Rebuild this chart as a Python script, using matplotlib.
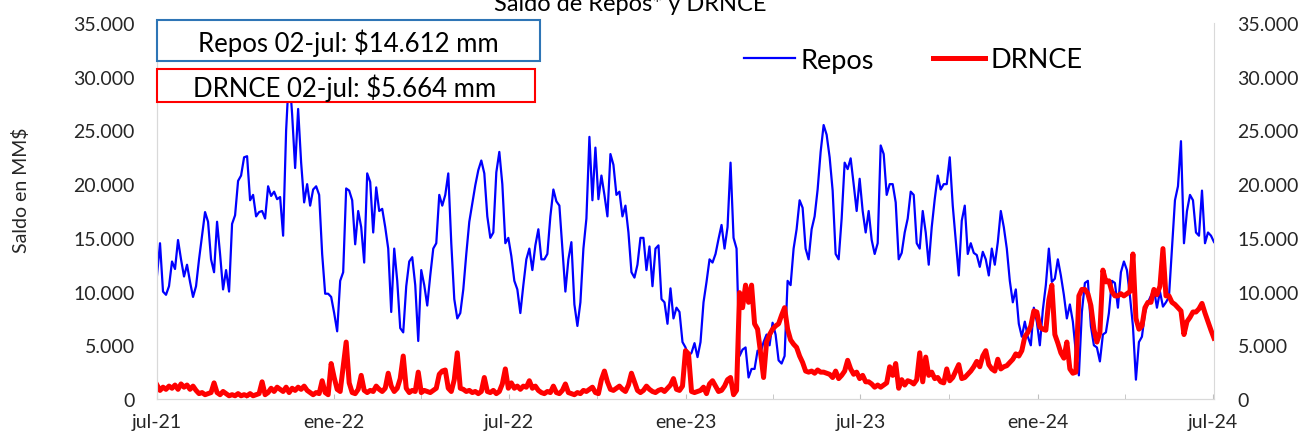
import numpy as np
import pandas as pd
import matplotlib
matplotlib.use("Agg")
import matplotlib.pyplot as plt
import matplotlib.dates as mdates
from matplotlib.ticker import FuncFormatter
from matplotlib.patches import Rectangle
from matplotlib.lines import Line2D

plt.rcParams['font.family'] = ['Lato', 'DejaVu Sans']

# daily balances, in thousands of MM$
start_date = "2021-07-01"
end_date = "2024-07-02"

repos_k = [
    11.5, 14.5, 10.0, 9.7, 10.5, 12.8, 12.1, 14.8, 13.0, 11.4,
    12.5, 10.9, 9.5, 10.5, 13.0, 15.2, 17.4, 16.5, 13.0, 11.8,
    16.5, 13.5, 10.2, 12.0, 10.0, 16.3, 17.1, 20.3, 20.8, 22.5,
    22.6, 18.5, 19.0, 17.0, 17.4, 17.5, 16.8, 19.8, 18.9, 19.3,
    18.6, 18.8, 15.2, 25.0, 30.5, 26.5, 21.5, 27.0, 22.0, 18.3,
    20.0, 18.0, 19.5, 19.8, 19.0, 13.5, 9.8, 9.8, 9.5, 8.0,
    6.3, 11.0, 11.8, 19.6, 19.4, 18.5, 14.4, 17.5, 16.0, 12.7,
    21.0, 20.2, 15.5, 19.7, 17.5, 17.7, 16.0, 14.0, 8.1, 14.0,
    11.0, 6.6, 6.2, 10.5, 12.8, 13.2, 10.6, 5.4, 12.0, 10.6,
    8.7, 11.5, 14.0, 14.5, 19.0, 18.0, 19.0, 21.0, 14.5, 9.3,
    7.5, 8.0, 10.2, 13.5, 16.5, 18.2, 19.9, 21.3, 22.2, 21.0,
    17.0, 15.0, 15.5, 21.1, 23.0, 20.0, 14.5, 15.0,
    13.3, 11.0, 10.2, 8.0, 10.6, 13.0, 14.0, 12.0, 14.3, 15.8,
    13.0, 13.0, 13.5, 17.0, 19.5, 18.4, 18.0, 14.0, 10.0, 13.0,
    14.6, 8.8, 6.8, 9.0, 14.0, 16.8, 24.4, 18.5, 23.4, 18.6,
    20.8, 19.0, 17.0, 22.8, 21.8, 19.0, 19.3, 17.0, 18.0, 15.5,
    11.8, 11.3, 12.5, 15.0, 15.0, 12.0, 14.2, 10.5, 14.0, 14.3,
    9.3, 9.0, 7.0, 10.3, 7.5, 8.5, 8.1, 5.3, 4.8,
    4.0, 4.3, 5.2, 3.9, 5.3, 9.0, 10.9, 13.0, 12.7, 13.5,
    14.9, 16.2, 14.0, 16.0, 22.0, 15.0, 14.0, 4.0, 4.6, 4.8,
    2.0, 2.8, 2.8, 4.5, 4.3, 5.3, 6.0, 5.0, 7.1, 6.0,
    3.6, 3.3, 4.0, 11.0, 10.6, 14.0, 15.8, 18.5, 17.8, 14.0,
    13.0, 15.8, 17.0, 19.5, 23.0, 25.5, 24.6, 22.5, 19.4, 13.5,
    13.0, 16.8, 22.0, 21.4, 22.4, 20.0, 17.5, 20.5, 17.5, 15.5,
    17.5, 14.8, 13.5, 14.5, 23.6, 22.8, 19.0, 20.0, 20.0, 18.3,
    13.0, 13.6, 15.5, 16.8, 19.3, 19.0, 14.5, 14.0, 17.5, 15.5,
    12.5, 16.0, 18.6, 20.8, 19.5, 20.0, 20.0, 22.5, 18.0, 14.7,
    11.5, 16.6, 18.0, 13.5, 14.5, 13.6, 13.4, 12.3, 13.7, 13.0,
    11.5, 14.0, 12.5, 14.6, 17.5, 16.0, 14.0, 11.0, 9.0, 10.2,
    7.0, 5.8, 7.2, 5.8, 5.0, 8.5, 7.2, 5.0,
    8.3, 10.6, 14.0, 10.9, 11.2, 13.0, 11.5, 9.7, 7.5, 8.8,
    7.2, 4.3, 2.2, 8.1, 10.8, 11.0, 6.8, 5.0, 4.8, 3.5,
    6.0, 6.2, 8.0, 11.0, 10.8, 8.5, 11.8, 12.8, 12.0, 9.6,
    6.8, 1.8, 5.3, 5.8, 8.0, 9.0, 9.6, 10.2, 8.5, 10.0,
    8.6, 9.0, 9.5, 14.0, 18.5, 19.8, 24.0, 14.5, 17.5, 19.0,
    18.5, 15.5, 15.2, 19.4, 14.5, 15.5, 15.2, 14.612,
]

drnce_k = [
    1.3, 0.8, 1.1, 0.9, 1.2, 1.0, 1.3, 0.9, 1.4, 1.1,
    1.3, 0.9, 1.2, 0.8, 0.5, 0.6, 0.4, 0.5, 0.6, 1.5,
    0.6, 0.4, 0.7, 0.5, 0.3, 0.4, 0.3, 0.5, 0.3, 0.4,
    0.3, 0.5, 0.3, 0.4, 0.5, 1.6, 0.4, 0.6, 1.0, 0.7,
    1.1, 0.9, 0.7, 1.1, 0.6, 1.0, 0.8, 1.1, 0.9, 1.2,
    0.8, 0.6, 0.4, 0.6, 0.5, 1.7, 0.6, 0.4, 3.3, 2.0,
    0.9, 0.7, 3.0, 5.3, 1.5, 0.6, 0.5, 0.9, 2.2, 0.8,
    0.6, 0.8, 0.7, 1.2, 0.9, 0.7, 1.0, 2.4, 1.2, 0.7,
    1.0, 1.9, 4.0, 1.0, 0.6, 0.8, 0.7, 2.5, 0.6, 0.8,
    0.7, 0.6, 0.8, 1.0, 2.3, 2.6, 2.7, 1.0, 0.7, 1.8,
    4.3, 1.0, 0.9, 0.7, 0.8, 0.6, 0.7, 0.5, 0.7, 2.0,
    0.7, 0.6, 0.8, 0.5, 0.7, 1.4, 2.8, 1.0,
    1.5, 1.0, 1.2, 0.9, 1.2, 1.1, 1.7, 1.0, 1.2, 0.8,
    0.6, 0.5, 0.7, 0.6, 1.2, 0.6, 0.5, 0.8, 1.4, 0.6,
    0.5, 0.4, 0.6, 0.5, 0.8, 0.7, 0.9, 1.1, 0.6, 0.5,
    1.8, 2.6, 1.6, 0.9, 0.8, 1.0, 1.2, 0.9, 0.7, 1.3,
    2.4, 1.6, 0.8, 0.6, 0.8, 1.2, 0.9, 0.7, 0.6, 0.8,
    0.9, 0.7, 1.0, 1.3, 1.9, 0.9, 0.8, 1.2, 4.5,
    4.2, 0.7, 0.6, 0.7, 0.8, 1.1, 0.5, 1.4, 1.7, 1.2,
    0.7, 0.8, 1.2, 1.8, 2.0, 0.4, 0.8, 9.9, 8.5, 10.6,
    9.0, 10.6, 7.0, 6.5, 4.3, 2.0, 5.3, 6.0, 6.5, 6.8,
    7.0, 7.8, 8.5, 6.5, 5.5, 5.1, 4.8, 4.0, 3.4, 2.6,
    2.5, 2.6, 2.4, 2.7, 2.5, 2.5, 2.4, 2.3, 2.0, 2.6,
    1.9, 2.2, 2.6, 3.6, 2.8, 2.3, 2.5, 1.9, 2.2, 1.6,
    1.6, 1.4, 1.1, 1.3, 1.1, 1.3, 1.5, 3.0, 2.2, 3.3,
    1.0, 1.8, 1.3, 1.7, 1.6, 1.4, 1.8, 4.3, 1.6, 3.9,
    2.2, 2.5, 1.9, 2.0, 1.6, 1.5, 2.8, 1.7, 2.0, 2.6,
    3.2, 1.9, 2.0, 2.3, 2.6, 3.0, 3.5, 3.0, 4.0, 4.5,
    3.2, 2.8, 2.6, 3.7, 2.8, 3.0, 3.1, 3.4, 3.7, 4.2,
    4.0, 4.5, 5.8, 6.2, 6.8, 8.2, 8.1, 6.7,
    6.5, 6.4, 9.2, 10.6, 6.0, 5.2, 4.3, 3.8, 5.3, 2.8,
    2.4, 2.5, 9.6, 10.2, 10.2, 9.8, 8.7, 6.5, 5.3, 6.2,
    12.0, 10.9, 11.0, 10.0, 9.6, 9.6, 9.8, 9.6, 9.8, 10.0,
    13.5, 7.5, 6.5, 6.8, 8.5, 9.0, 9.0, 10.2, 9.7, 10.5,
    14.0, 9.6, 9.6, 9.0, 8.8, 8.5, 8.2, 6.0, 7.2, 7.6,
    8.1, 8.1, 8.4, 8.9, 8.0, 7.2, 6.4, 5.664,
]

meses = {1: "ene", 4: "abr", 7: "jul", 10: "oct"}
title = "Saldo de Repos* y DRNCE"
ylabel = "Saldo en MM$"
repos_box = "Repos 02-jul: $14.612 mm"
drnce_box = "DRNCE 02-jul: $5.664 mm"

dates = pd.date_range(start_date, end_date, periods=len(repos_k))
repos = np.array(repos_k) * 1000
drnce = np.array(drnce_k) * 1000

W, H = 1309, 439
fig = plt.figure(figsize=(W / 100, H / 100), dpi=100)
ax = fig.add_axes([157 / W, 1 - 400 / H, (1214 - 157) / W, (400 - 24) / H])
ax2 = ax.twinx()

ax.plot(dates, repos, color='#0000FF', lw=1.6, label='Repos')
ax2.plot(dates, drnce, color='#FF0000', lw=3.6, label='DRNCE')

fmt = FuncFormatter(lambda v, p: f"{int(v):,}".replace(",", "."))
for a in (ax, ax2):
    a.set_ylim(0, 35000)
    a.set_yticks(range(0, 35001, 5000))
    a.yaxis.set_major_formatter(fmt)
    a.tick_params(axis='y', length=0, labelsize=14, colors='#262626')
    for s in a.spines.values():
        s.set_color('#D9D9D9')
    a.spines['top'].set_visible(False)
ax.tick_params(axis='y', pad=16)
ax2.tick_params(axis='y', pad=17)
ax.spines['right'].set_visible(False)

ax.set_xlim(pd.Timestamp("2021-07-01"), pd.Timestamp("2024-07-02"))
ax.xaxis.set_major_locator(mdates.MonthLocator(bymonth=[1, 7]))
ax.xaxis.set_minor_locator(mdates.MonthLocator(bymonth=[4, 10]))
ax.xaxis.set_major_formatter(FuncFormatter(
    lambda x, p: f"{meses[mdates.num2date(x).month]}-{mdates.num2date(x):%y}"))
ax.tick_params(axis='x', which='both', direction='in', length=3.6,
               color='#BFBFBF', labelsize=14, pad=10, labelcolor='#262626')

fig.text(21 / W, 1 - 190 / H, ylabel, rotation=90, ha='center', va='center',
         fontsize=14, color='#262626')
fig.text(630 / W, 1 - 11 / H, title, ha='center', va='baseline', fontsize=17)

# annotation boxes
fig.add_artist(Rectangle((157 / W, 1 - 62 / H), (540 - 157) / W, 41 / H,
                         transform=fig.transFigure, facecolor='white',
                         edgecolor='#2E75B6', lw=1.5, zorder=5))
fig.add_artist(Rectangle((157 / W, 1 - 103 / H), (535 - 157) / W, 33 / H,
                         transform=fig.transFigure, facecolor='white',
                         edgecolor='#FF0000', lw=1.5, zorder=5))
fig.text(348 / W, 1 - 43 / H, repos_box, ha='center', va='center',
         fontsize=18.5, zorder=6)
fig.text(345 / W, 1 - 88 / H, drnce_box, ha='center', va='center',
         fontsize=18.5, zorder=6)

handles = [Line2D([], [], color='#0000FF', lw=1.6),
           Line2D([], [], color='#FF0000', lw=3.6)]
fig.legend(handles, ['Repos', 'DRNCE'], loc='center',
           bbox_to_anchor=(913 / W, 1 - 61 / H), ncol=2, frameon=False,
           fontsize=19.5, handlelength=1.9, handletextpad=0.2, columnspacing=2.2)

fig.savefig("out.png", dpi=100)
